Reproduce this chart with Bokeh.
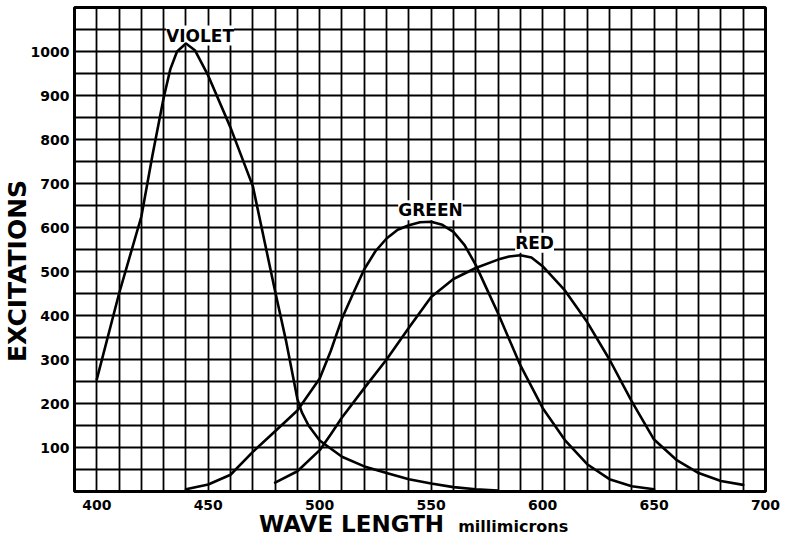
from bokeh.plotting import figure
from bokeh.models import FixedTicker, Label, Range1d, Div
from bokeh.layouts import row, column
from bokeh.embed import file_html
from bokeh.resources import INLINE

# ---- data ----
violet_nm = [400, 410, 420, 425, 430, 433, 436, 440, 444, 450, 460, 470, 480, 485, 490, 492, 495,
             500, 510, 520, 530, 540, 550, 560, 570, 580]
violet_v = [255, 450, 625, 765, 895, 960, 1000, 1018, 1003, 945, 827, 694, 455, 340, 210, 180, 150,
            116, 79, 57, 42, 28, 18, 10, 5, 2]

green_nm = [440, 450, 460, 470, 480, 490, 500, 505, 510, 515, 520, 525, 530, 535, 540, 545, 550,
            555, 560, 565, 570, 575, 580, 590, 600, 610, 620, 630, 640, 650]
green_v = [5, 16, 38, 90, 137, 184, 257, 320, 393, 450, 505, 546, 575, 595, 605, 612, 613,
           606, 590, 560, 515, 460, 405, 287, 190, 117, 62, 28, 12, 5]

red_nm = [480, 490, 500, 505, 510, 520, 530, 540, 550, 560, 570, 580, 585, 590, 595, 600, 610,
          620, 630, 640, 650, 660, 670, 680, 690]
red_v = [20, 46, 94, 130, 168, 235, 300, 372, 442, 483, 508, 527, 534, 537, 532, 512, 457,
         385, 300, 205, 118, 72, 42, 24, 15]

x_ticks = [400, 450, 500, 550, 600, 650, 700]
y_ticks = [100, 200, 300, 400, 500, 600, 700, 800, 900, 1000]
curve_names = ["VIOLET", "GREEN", "RED"]
y_title = "EXCITATIONS"
x_title = "WAVE LENGTH"
x_unit = "millimicrons"

FONT = "DejaVu Sans"

p = figure(width=753, height=516, output_backend="svg", toolbar_location=None,
           x_range=Range1d(390, 700), y_range=Range1d(0, 1100),
           min_border_left=44, min_border_right=15, min_border_top=7, min_border_bottom=25,
           margin=(0, 0, 0, 0))
p.background_fill_color = "white"
p.border_fill_color = "white"
p.outline_line_color = "black"
p.outline_line_width = 3

p.xgrid.ticker = FixedTicker(ticks=list(range(390, 701, 10)))
p.ygrid.ticker = FixedTicker(ticks=list(range(0, 1101, 50)))
p.grid.grid_line_color = "black"
p.grid.grid_line_width = 1.8
p.grid.grid_line_alpha = 1.0

p.xaxis.ticker = FixedTicker(ticks=x_ticks)
p.yaxis.ticker = FixedTicker(ticks=y_ticks)
for ax in (p.xaxis, p.yaxis):
    ax.axis_line_color = None
    ax.major_tick_line_color = None
    ax.minor_tick_line_color = None
    ax.major_tick_out = 0
    ax.major_tick_in = 0
    ax.minor_tick_out = 0
    ax.minor_tick_in = 0
    ax.major_label_text_font = FONT
    ax.major_label_text_font_style = "bold"
    ax.major_label_text_font_size = "14px"
    ax.major_label_text_color = "black"
p.xaxis.major_label_standoff = 8
p.yaxis.major_label_standoff = 5

for xs, ys in ((violet_nm, violet_v), (green_nm, green_v), (red_nm, red_v)):
    p.line(xs, ys, line_color="black", line_width=2.6, line_join="round", line_cap="round")

# curve names just above each peak (drawn under the curves, over the grid)
dxs = [6.3, -0.3, 6.4]
dys = [8, 11.5, 12.5]
for name, xs, ys, dx, dy in zip(curve_names, (violet_nm, green_nm, red_nm),
                                (violet_v, green_v, red_v), dxs, dys):
    i = ys.index(max(ys))
    p.add_layout(Label(x=xs[i] + dx, y=ys[i], y_offset=dy, text=name,
                       text_align="center", text_baseline="alphabetic",
                       text_font=FONT, text_font_style="bold", text_font_size="17px",
                       text_color="black", background_fill_color="white",
                       background_fill_alpha=1.0, level="underlay"))

ydiv = Div(width=27, height=516, margin=(0, 0, 0, 0),
           text=('<div style="position:relative;width:27px;height:516px;">'
                 '<span style="position:absolute;left:17px;top:271px;white-space:nowrap;'
                 "font-family:'DejaVu Sans';font-weight:bold;font-size:25px;line-height:1;"
                 'color:black;transform:translate(-50%,-50%) rotate(-90deg);">'
                 + y_title + '</span></div>'))

xdiv = Div(width=780, height=17, margin=(0, 0, 0, 0),
           text=('<div style="position:relative;width:780px;height:17px;">'
                 '<div style="position:absolute;left:259px;top:-3px;white-space:nowrap;'
                 "font-family:'DejaVu Sans';font-weight:bold;line-height:1;color:black;\">"
                 '<span style="font-size:23px;">' + x_title + '</span>'
                 '<span style="font-size:16px;margin-left:14px;">' + x_unit + '</span>'
                 '</div></div>'))

layout = column(row(ydiv, p, spacing=0), xdiv, spacing=0)

open("out.html", "w").write(file_html(layout, INLINE))
